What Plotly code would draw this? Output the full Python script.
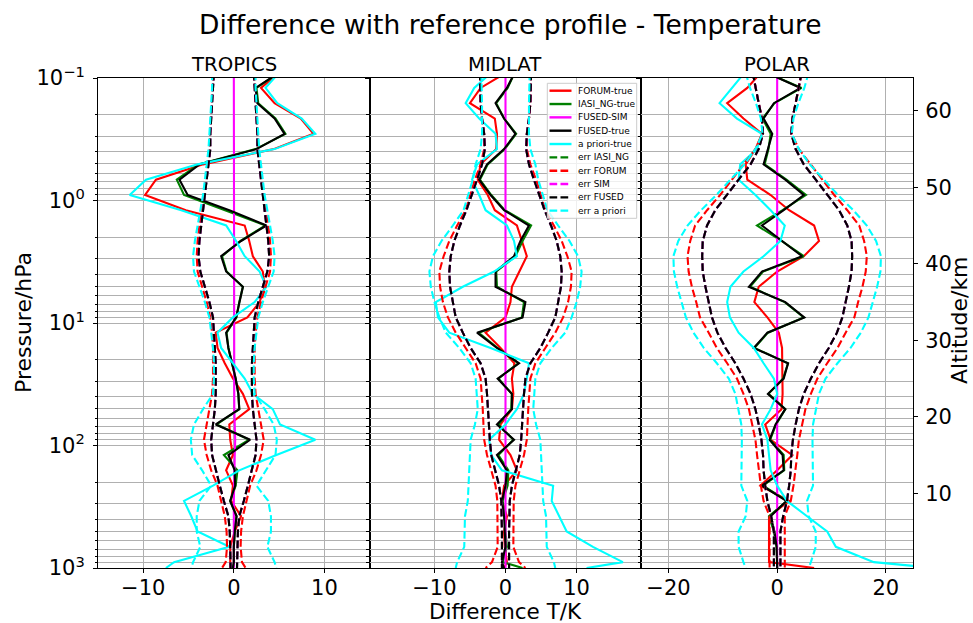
import plotly.graph_objects as go

# Retrieval pressure levels (hPa), top of the profile first
PRESSURE_HPA = [0.0904, 0.1205, 0.1606, 0.2142, 0.2855, 0.3806, 0.507, 0.676, 0.902, 1.20,
                1.60, 2.14, 2.85, 3.80, 5.06, 6.75, 9.00, 11.99, 15.99, 21.32,
                28.42, 37.88, 50.50, 67.33, 89.75, 119.6, 159.5, 212.7, 283.5, 377.9,
                503.8, 671.6, 895.3, 1000.0]

REGIONS = ["TROPICS", "MIDLAT", "POLAR"]

# ---- TROPICS : temperature differences (K) ----
tropics_forum_true = [5.0, 3.0, 4.5, 7.4, 8.8, 4.4, -3.4, -8.6, -9.8, -5.3, 1.2, 1.7, 2.1, 3.2, 3.4, 2.85, 1.5,
                      -2.0, -1.8, -1.0, -0.1, 1.0, 1.7, -0.5, -0.4, -0.1, -0.85, -0.1, -0.3, 0.8, 0.1, -0.4, -0.4, -0.4]
tropics_iasi_true = [5.0, 2.5, 2.7, 4.6, 5.7, 2.4, -3.9, -6.3, -5.5, -1.0, 3.5, 0.7, -1.3, -0.8, 1.0, 0.6, 0.3,
                     -0.8, -0.6, -0.2, 0.2, 0.5, 0.6, -1.9, 1.7, -1.1, 0.4, 0.2, -0.4, 0.3, 0.1, 0.0, 0.0, -0.1]
tropics_fused_sim = [0.0, 0.0, 0.0, 0.0, 0.0, 0.0, 0.0, 0.0, 0.0, 0.0, 0.0, 0.0, 0.0, 0.0, 0.0, 0.0, 0.0,
                     0.0, 0.0, 0.0, 0.0, 0.0, 0.05, 0.1, 0.15, 0.1, 0.05, 0.05, 0.0, 0.0, 0.0, 0.0, 0.0, 0.0]
tropics_fused_true = [5.0, 2.4, 2.6, 4.5, 5.6, 2.5, -3.8, -6.0, -5.1, -0.5, 3.6, 0.8, -1.4, -0.85, 1.0, 0.6, 0.25,
                      -0.85, -0.6, -0.2, 0.2, 0.5, 0.6, -2.0, 1.8, -0.6, 0.1, 0.15, -0.4, 0.3, 0.1, 0.0, 0.0, -0.1]
tropics_apriori_true = [5.0, 3.5, 4.8, 7.5, 9.0, 4.5, -4.0, -9.7, -11.5, -5.8, -0.85, 0.25, 1.2, 2.85, 3.6, 2.3, -0.1,
                        -1.8, -1.4, -0.1, 1.2, 2.1, 4.3, 5.1, 9.0, 4.7, 0.6, -2.3, -5.5, -4.7, -4.0, -0.5, -6.6, -7.5]
tropics_err_fused = [2.2, 2.3, 2.4, 2.5, 2.6, 2.6, 2.8, 3.0, 3.2, 3.4, 3.6, 3.8, 3.9, 3.7, 3.2, 2.7, 2.3,
                     2.2, 2.1, 2.0, 2.0, 2.0, 2.1, 2.3, 2.5, 2.4, 2.0, 1.55, 1.1, 0.6, 0.45, 0.4, 0.35, 0.35]
tropics_err_forum = [2.25, 2.35, 2.45, 2.55, 2.65, 2.7, 2.9, 3.1, 3.3, 3.5, 3.8, 4.0, 4.1, 4.0, 3.5, 3.0, 2.6,
                     2.4, 2.3, 2.3, 2.3, 2.4, 2.7, 3.0, 3.3, 3.0, 2.5, 1.8, 1.4, 1.0, 0.8, 0.75, 0.9, 1.3]
tropics_err_apriori = [2.4, 2.4, 2.5, 2.6, 2.7, 2.8, 3.0, 3.2, 3.4, 3.7, 4.0, 4.3, 4.5, 4.4, 3.8, 3.2, 2.7,
                       2.5, 2.3, 2.2, 2.2, 2.3, 3.4, 4.4, 4.75, 4.6, 3.5, 2.5, 3.8, 4.1, 4.1, 3.7, 4.5, 4.7]

# ---- MIDLAT ----
midlat_forum_true = [0.1, -3.5, -5.0, -1.5, -1.2, -1.3, -3.5, -3.9, -2.5, -1.5, 1.6, 2.3, 3.0, 1.95, 0.9, 0.7, 0.0,
                     -2.8, -0.7, 1.25, 0.9, 1.1, 0.9, -0.7, -0.9, 0.7, 1.6, -0.2, -0.5, 0.2, -0.2, -0.1, 0.2, -0.2]
midlat_iasi_true = [1.3, 0.3, -1.3, -0.2, 1.5, -0.1, -2.5, -3.6, -2.0, -0.1, 3.6, 2.4, 1.4, -1.3, -1.2, 2.6, 2.3,
                    -3.8, -1.1, 1.8, -1.0, 0.9, 0.8, -1.0, 1.1, -1.0, 0.4, 0.3, -0.4, -0.1, 0.0, 0.2, -0.4, 2.4]
midlat_fused_sim = [0.0, 0.0, 0.0, 0.0, 0.0, 0.0, 0.0, 0.0, 0.0, 0.0, 0.0, 0.0, 0.0, 0.0, 0.0, 0.0, 0.0,
                    0.0, 0.0, 0.0, 0.0, 0.0, 0.0, 0.0, 0.0, 0.0, 0.0, 0.0, 0.0, 0.0, 0.0, 0.0, 0.0, 0.0]
midlat_fused_true = [1.3, 0.2, -1.4, -0.2, 1.4, -0.2, -2.6, -3.7, -2.1, -0.2, 3.3, 2.1, 1.2, -1.4, -1.4, 2.8, 2.4,
                     -4.0, -1.2, 1.9, -1.1, 0.9, 0.9, -1.2, 1.2, -1.2, 0.2, 0.0, -0.5, -0.2, -0.1, 0.0, -0.5, -0.2]
midlat_apriori_true = [-2.0, -4.4, -5.6, -3.7, -1.4, -1.2, -4.0, -4.7, -3.7, -2.8, 0.2, 1.2, 1.6, -1.6, -6.0, -9.8, -9.5,
                       -7.9, -2.1, 3.3, 3.0, 2.6, 1.6, 0.0, -2.3, -2.0, -0.5, 6.7, 6.5, 7.5, 8.6, 12.3, 16.5, 11.4]
midlat_err_fused = [3.6, 3.6, 3.5, 3.3, 3.0, 2.9, 3.3, 4.0, 4.7, 5.5, 6.4, 7.2, 7.7, 7.9, 7.8, 7.4, 7.0,
                    6.0, 4.9, 3.5, 2.8, 2.6, 2.5, 2.4, 2.2, 2.0, 1.5, 0.9, 0.6, 0.5, 0.5, 0.5, 0.5, 0.5]
midlat_err_forum = [3.6, 3.6, 3.5, 3.3, 3.0, 3.0, 3.5, 4.3, 4.9, 5.6, 6.8, 7.9, 8.7, 9.3, 9.2, 8.8, 8.1,
                    7.0, 5.6, 4.2, 3.5, 3.3, 3.2, 3.1, 3.0, 2.6, 2.0, 1.4, 1.15, 1.15, 1.15, 1.1, 1.9, 2.8]
midlat_err_apriori = [3.4, 3.3, 3.3, 3.3, 3.3, 3.5, 4.2, 4.6, 5.3, 5.9, 7.4, 9.0, 10.2, 10.7, 10.5, 10.0, 9.3,
                      8.4, 6.5, 4.9, 4.2, 4.0, 3.9, 4.3, 4.9, 5.0, 5.1, 5.1, 5.3, 5.7, 5.8, 5.8, 6.8, 7.0]

# ---- POLAR ----
polar_forum_true = [-3.0, -5.5, -9.2, -6.2, -2.8, -4.0, -5.8, -5.5, -1.2, 2.2, 6.8, 7.7, 4.9, 0.0, -3.4, -4.2, -1.8,
                    0.3, 0.9, 0.9, 1.0, 1.0, 0.8, -2.2, -1.2, 2.8, 0.0, -3.1, 2.2, -1.5, -1.5, -1.5, -1.5, 6.8]
polar_iasi_true = [-2.0, 4.5, -0.5, -2.7, -1.2, -1.6, -2.3, 1.7, 5.3, 1.0, -3.7, 0.8, 4.9, -2.6, -5.0, 1.4, 4.9,
                   -1.7, -4.2, 2.0, 1.1, -1.6, 1.5, -0.2, -1.3, 1.2, 1.3, -2.6, 1.8, -1.5, -0.6, -0.1, 0.0, 0.0]
polar_fused_sim = [0.0, 0.0, 0.0, 0.0, 0.0, 0.0, 0.0, 0.0, 0.0, 0.0, 0.0, 0.0, 0.0, 0.0, 0.0, 0.0, 0.0,
                   0.0, 0.0, 0.0, 0.0, 0.0, 0.0, 0.0, 0.0, 0.0, 0.0, 0.0, 0.0, 0.0, 0.0, 0.0, 0.0, 0.0]
polar_fused_true = [-2.0, 4.3, -0.6, -2.5, -0.9, -1.7, -2.5, 1.5, 4.9, 1.2, -2.8, 0.9, 4.6, -2.8, -5.2, 1.5, 5.0,
                    -1.8, -4.3, 2.0, 1.2, -1.7, 1.5, -0.3, -1.4, 1.0, 1.2, -2.8, 1.7, -1.2, -0.5, -0.1, 0.0, 0.0]
polar_apriori_true = [-6.0, -8.3, -10.6, -7.4, -2.8, -3.7, -6.8, -7.1, -4.0, -1.2, 1.4, 0.6, -2.5, -6.2, -8.6, -9.2, -8.7,
                      -7.1, -4.3, -2.5, -0.6, 0.0, -1.2, -2.8, -1.8, -1.5, -1.2, 0.0, 1.8, 5.5, 9.2, 10.8, 17.8, 29.0]
polar_err_fused = [4.5, 4.0, 3.4, 2.8, 2.6, 3.4, 4.9, 7.1, 9.2, 11.4, 12.9, 13.7, 13.8, 13.7, 13.2, 12.6, 12.0,
                   11.0, 9.5, 7.7, 6.2, 4.9, 4.0, 3.4, 2.9, 2.6, 2.5, 2.2, 1.8, 1.1, 0.6, 0.6, 0.6, 0.6]
polar_err_forum = [4.5, 4.0, 3.4, 2.8, 2.7, 4.0, 6.2, 8.3, 10.5, 12.9, 15.1, 16.0, 16.5, 16.3, 15.7, 14.9, 14.2,
                   12.6, 11.1, 9.2, 7.4, 6.2, 5.2, 4.6, 4.0, 3.7, 3.4, 3.0, 2.5, 1.4, 1.4, 1.4, 1.4, 1.4]
polar_err_apriori = [5.8, 5.0, 3.9, 3.0, 2.7, 4.0, 6.0, 8.6, 11.2, 14.0, 16.5, 18.2, 19.1, 19.0, 18.4, 17.6, 16.8,
                     15.4, 13.5, 11.1, 8.9, 7.7, 7.1, 6.6, 6.5, 6.5, 6.6, 6.6, 5.5, 5.8, 7.1, 7.1, 6.2, 5.8]

# The IASI-NG and SIM error profiles coincide with the fused one
PANELS = [
    dict(forum=tropics_forum_true, iasi=tropics_iasi_true, sim=tropics_fused_sim, fused=tropics_fused_true,
         apriori=tropics_apriori_true, err_iasi=tropics_err_fused, err_forum=tropics_err_forum,
         err_sim=tropics_err_fused, err_fused=tropics_err_fused, err_apriori=tropics_err_apriori),
    dict(forum=midlat_forum_true, iasi=midlat_iasi_true, sim=midlat_fused_sim, fused=midlat_fused_true,
         apriori=midlat_apriori_true, err_iasi=midlat_err_fused, err_forum=midlat_err_forum,
         err_sim=midlat_err_fused, err_fused=midlat_err_fused, err_apriori=midlat_err_apriori),
    dict(forum=polar_forum_true, iasi=polar_iasi_true, sim=polar_fused_sim, fused=polar_fused_true,
         apriori=polar_apriori_true, err_iasi=polar_err_fused, err_forum=polar_err_forum,
         err_sim=polar_err_fused, err_fused=polar_err_fused, err_apriori=polar_err_apriori),
]

X_RANGES = [[-15, 15], [-19.1, 19.1], [-25, 25]]
X_TICKS = [[-10, 0, 10], [-10, 0, 10], [-20, 0, 20]]

# (legend label, data key, colour, dashed)
SERIES = [
    ("FORUM-true", "forum", "red", False),
    ("IASI_NG-true", "iasi", "green", False),
    ("FUSED-SIM", "sim", "magenta", False),
    ("FUSED-true", "fused", "black", False),
    ("a priori-true", "apriori", "cyan", False),
    ("err IASI_NG", "err_iasi", "green", True),
    ("err FORUM", "err_forum", "red", True),
    ("err SIM", "err_sim", "magenta", True),
    ("err FUSED", "err_fused", "black", True),
    ("err a priori", "err_apriori", "cyan", True),
]

ALT_TICKS = [10, 20, 30, 40, 50, 60]
ALT_RANGE = [0.23, 64.3]
P_MAJOR = [0.1, 1, 10, 100, 1000]
P_MAJOR_TEXT = ["10<sup>\u22121</sup>", "10<sup>0</sup>", "10<sup>1</sup>", "10<sup>2</sup>", "10<sup>3</sup>"]
P_MINOR = [m * d for d in (0.1, 1, 10, 100) for m in range(2, 10)]

FONT = "DejaVu Sans"
DASH = "7.7px,3.3px"
LW = 2.1
GRID = "#b0b0b0"

W, H = 973, 623
ML, MR, MT, MB = 98, 60, 78, 55
PW, PH = W - ML - MR, H - MT - MB


def px_x(px):
    return (px - ML) / PW


def px_y(py):
    return (H - MB - py) / PH


fig = go.Figure()

for i, panel in enumerate(PANELS):
    xa = "x" if i == 0 else f"x{i + 1}"
    ya = "y" if i == 0 else f"y{i + 1}"
    for name, key, color, dashed in SERIES:
        vals = panel[key]
        if dashed:
            xs = list(vals) + [None] + [-v for v in vals]
            ys = PRESSURE_HPA + [None] + PRESSURE_HPA
        else:
            xs, ys = vals, PRESSURE_HPA
        fig.add_trace(go.Scatter(
            x=xs, y=ys, mode="lines", name=name, showlegend=False, xaxis=xa, yaxis=ya,
            line=dict(color=color, width=LW, dash=DASH if dashed else "solid"),
            hoverinfo="skip"))

# empty trace that carries the altitude axis
fig.add_trace(go.Scatter(x=[None], y=[None], xaxis="x3", yaxis="y4", showlegend=False, hoverinfo="skip"))

axis_common = dict(showline=True, linecolor="black", linewidth=1, mirror=True, zeroline=False,
                   ticks="outside", tickcolor="black", tickwidth=1, ticklen=4,
                   showgrid=True, gridcolor=GRID, gridwidth=1,
                   tickfont=dict(family=FONT, size=21, color="black"))

layout = dict(
    width=W, height=H, margin=dict(l=ML, r=MR, t=MT, b=MB),
    paper_bgcolor="white", plot_bgcolor="white", showlegend=False,
    font=dict(family=FONT, color="black"),
)

for i in range(3):
    xk = "xaxis" if i == 0 else f"xaxis{i + 1}"
    yk = "yaxis" if i == 0 else f"yaxis{i + 1}"
    layout[xk] = dict(axis_common, domain=[i / 3, (i + 1) / 3], range=X_RANGES[i], ticklen=3.5,
                      ticklabelstandoff=-3,
                      tickvals=X_TICKS[i], ticktext=[f"{v}".replace("-", "\u2212") for v in X_TICKS[i]],
                      anchor="y" if i == 0 else f"y{i + 1}")
    yax = dict(axis_common, type="log", range=[3, -1], anchor="x" if i == 0 else f"x{i + 1}",
               tickmode="array", tickvals=P_MAJOR,
               minor=dict(tickvals=P_MINOR, ticks="outside", ticklen=2.5, tickcolor="black", tickwidth=1,
                          showgrid=True, gridcolor=GRID, gridwidth=1))
    if i == 0:
        yax.update(ticktext=P_MAJOR_TEXT, ticklabelstandoff=4)
    else:
        yax.update(matches="y", showticklabels=False)
    layout[yk] = yax

layout["yaxis4"] = dict(overlaying="y3", side="right", anchor="x3", range=ALT_RANGE, tickvals=ALT_TICKS,
                        ticks="outside", ticklen=4, tickcolor="black", tickwidth=1, showgrid=False,
                        zeroline=False, showline=False, ticklabelstandoff=3,
                        tickfont=dict(family=FONT, size=21, color="black"))

fig.update_layout(**layout)

annotations = [
    dict(text="Difference with reference profile - Temperature", x=px_x(510.5), y=px_y(24),
         xref="paper", yref="paper", showarrow=False, xanchor="center", yanchor="middle",
         font=dict(family=FONT, size=26.5, color="black")),
    dict(text="Pressure/hPa", x=px_x(23), y=0.5, xref="paper", yref="paper", textangle=-90,
         showarrow=False, xanchor="center", yanchor="middle", font=dict(family=FONT, size=22, color="black")),
    dict(text="Difference T/K", x=0.5, y=px_y(611), xref="x2 domain", yref="paper",
         showarrow=False, xanchor="center", yanchor="middle", font=dict(family=FONT, size=21.5, color="black")),
    dict(text="Altitude/km", x=px_x(959), y=px_y(320), xref="paper", yref="paper", textangle=-90,
         showarrow=False, xanchor="center", yanchor="middle", font=dict(family=FONT, size=22, color="black")),
]
for i, region in enumerate(REGIONS):
    annotations.append(dict(text=region, x=0.5, y=px_y(64.8), xref=("x" if i == 0 else f"x{i + 1}") + " domain",
                            yref="paper", showarrow=False, xanchor="center", yanchor="middle",
                            font=dict(family=FONT, size=19.7, color="black")))

# Legend drawn inside the MIDLAT panel
shapes = []
LEG_L, LEG_R, LEG_T, LEG_B = 547.3, 636.7, 83.3, 218.3
P2_L = ML + PW / 3


def dx(px):
    return (px - P2_L) / (PW / 3)


def dy(py):
    return 1 - (py - MT) / PH


shapes.append(dict(type="rect", xref="x2 domain", yref="y2 domain", x0=dx(LEG_L), x1=dx(LEG_R),
                   y0=dy(LEG_B), y1=dy(LEG_T), line=dict(color="#cccccc", width=1),
                   fillcolor="rgba(255,255,255,0.8)", layer="above"))
for k, (name, key, color, dashed) in enumerate(SERIES):
    yy = dy(90.7 + 13.33 * k)
    shapes.append(dict(type="line", xref="x2 domain", yref="y2 domain", x0=dx(549.5), x1=dx(571.5),
                       y0=yy, y1=yy, line=dict(color=color, width=2.4, dash=DASH if dashed else "solid"),
                       layer="above"))
    annotations.append(dict(text=name, x=dx(576), y=yy, xref="x2 domain", yref="y2 domain",
                            showarrow=False, xanchor="left", yanchor="middle",
                            font=dict(family=FONT, size=9, color="black")))

fig.update_layout(annotations=annotations, shapes=shapes)

fig.write_html("out.html")
